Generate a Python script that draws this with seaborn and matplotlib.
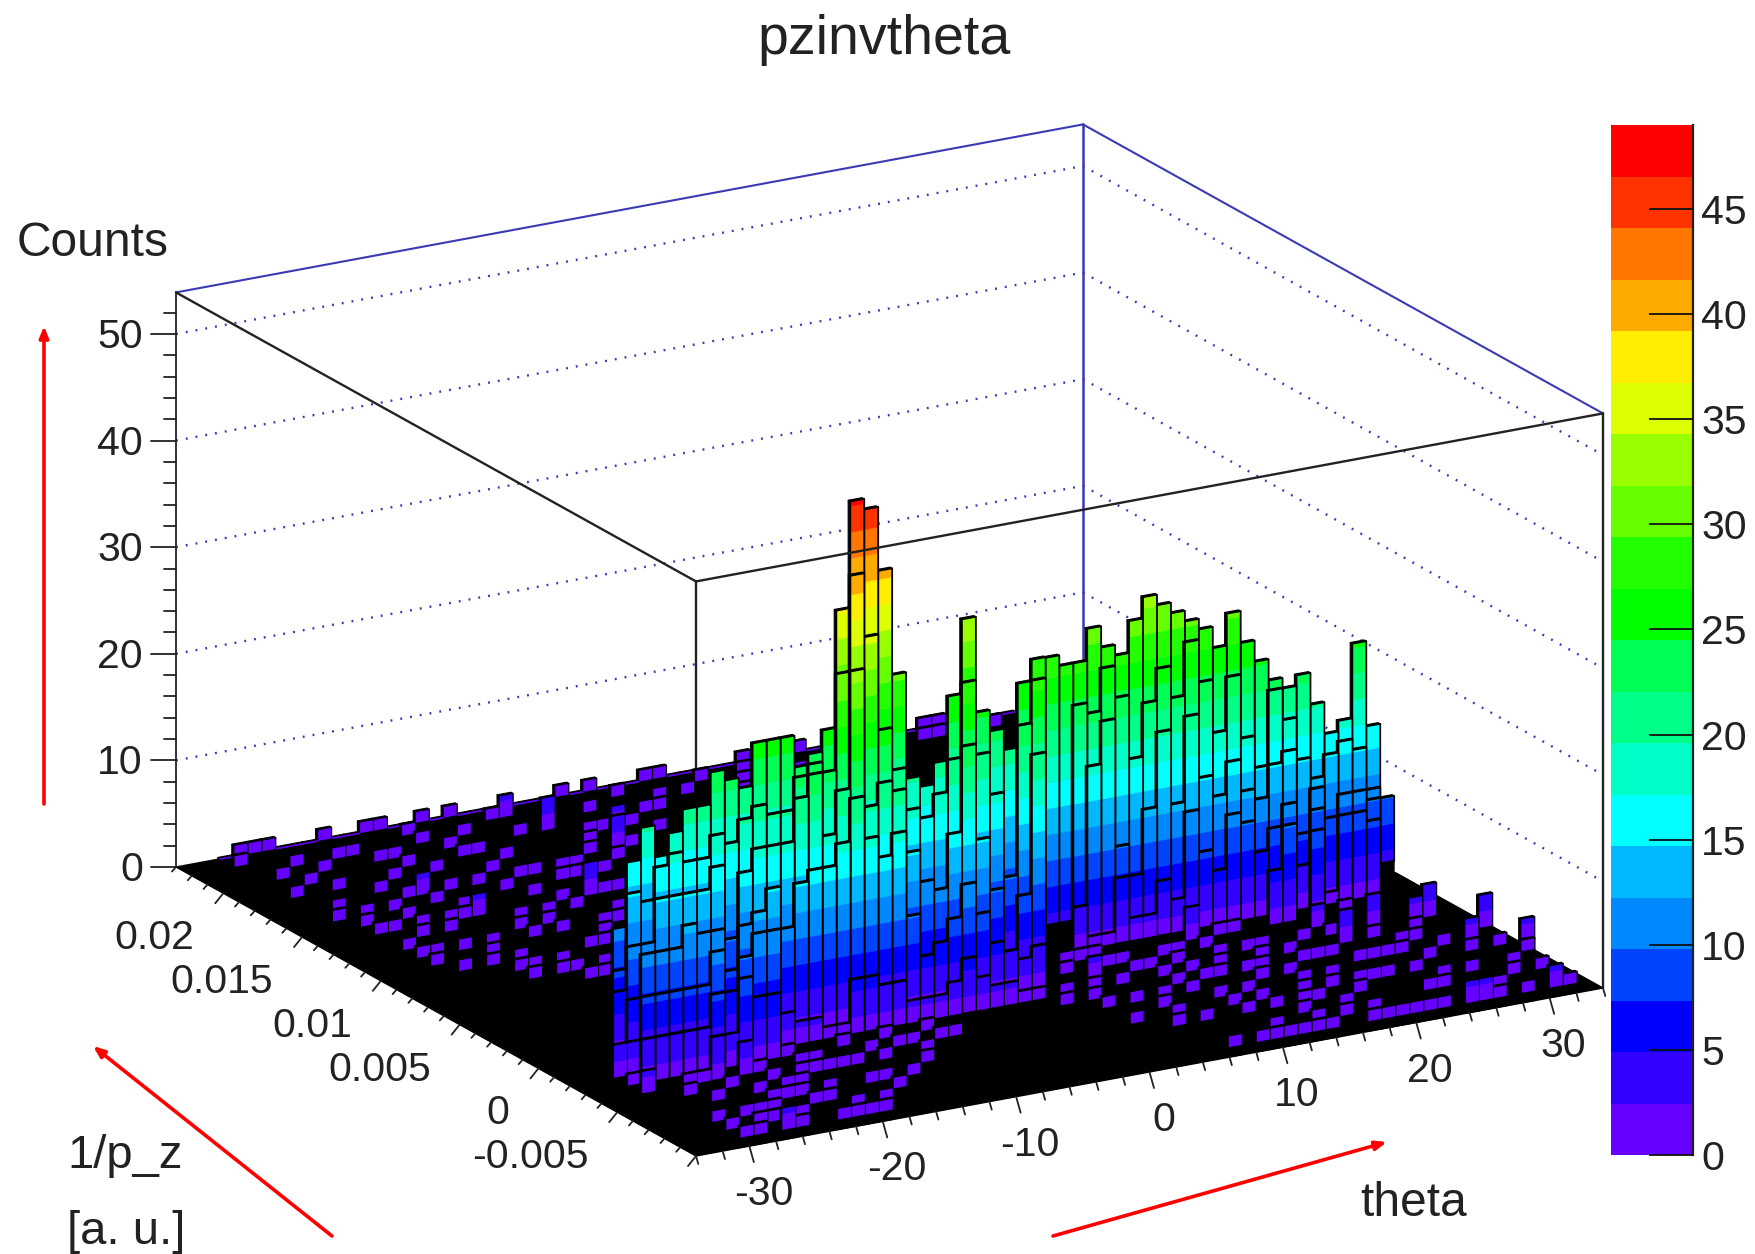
#!/usr/bin/env python3
import numpy as np
import seaborn as sns
import matplotlib
matplotlib.use("Agg")
import matplotlib.pyplot as plt
from matplotlib.collections import PolyCollection
from matplotlib.colors import ListedColormap

sns.set_theme(style="white")
plt.rcParams["font.family"] = ["Liberation Sans", "DejaVu Sans"]

# histogram binning
N_THETA = 65
N_PZ = 37
THETA_MIN, THETA_MAX = -34.0, 34.0
PZ_MIN, PZ_MAX = -0.01, 0.023
Z_TOP = 53.9
Z_PALETTE_TOP = 49.0

band_colors = ["#6600ff", "#3300ff", "#0000ff", "#0044ff", "#0088ff", "#00b8ff", "#00ffff",
               "#00ffc8", "#00ff88", "#00ff55", "#00ff00", "#22ff00", "#66ff00", "#99ff00",
               "#ddff00", "#ffee00", "#ffaa00", "#ff7700", "#ff3300", "#ff0000"]

# ridge counts, one list per 1/p_z row, running along the picture columns from -6 on
ridge_row15 = [0] * 31 + [26, 25, 25, 28, 26, 25, 28, 30, 29, 28, 27, 26, 24, 27, 24, 22, 20, 19, 20, 17, 14, 15, 22, 14, 7]
ridge_row14 = [0] * 31 + [0, 0, 22, 21, 25, 22, 16, 21, 24, 21, 26, 22, 17, 22, 16, 13, 20, 17, 13, 11, 13, 14, 13, 9, 0]
ridge_row13 = [0] * 31 + [0, 0, 0, 17, 21, 9, 6, 12, 19, 12, 20, 14, 12, 15, 12, 11, 14, 15, 7, 11, 8, 10, 10, 9, 0]
ridge_row12 = [11, 17, 20, 17, 19, 21, 21, 24, 23, 22, 26, 26, 26, 23, 24, 26, 37, 47, 46, 40, 30, 20, 19, 21, 27, 34, 25, 23, 21, 27, 29,
               0, 0, 5, 2, 2, 7, 3, 3, 6, 4, 12, 8, 6, 11, 10, 7, 9, 11, 5, 10, 2, 9, 9, 8, 0]
ridge_row11 = [8, 15, 14, 17, 18, 17, 17, 19, 18, 20, 21, 20, 20, 23, 24, 23, 32, 41, 35, 26, 22, 18, 17, 19, 22, 29, 22, 18, 10, 24, 28,
               0, 0, 0, 0, 0, 0, 0, 0, 0, 0, 4, 0, 0, 0, 0, 0, 6, 10, 0, 9, 0, 2, 0, 0, 0]
ridge_row10 = [7, 11, 11, 15, 15, 15, 15, 17, 10, 16, 18, 18, 18, 22, 24, 18, 22, 33, 20, 22, 21, 15, 12, 11, 16, 24, 15, 10, 0, 9, 22]
ridge_row9 = [0, 7, 11, 11, 11, 13, 12, 12, 8, 12, 13, 15, 11, 15, 16, 16, 18, 22, 18, 16, 18, 10, 6, 7, 9, 12, 9, 6, 5, 4, 5]
ridge_row8 = [4, 4, 8, 8, 8, 8, 8, 11, 7, 10, 12, 12, 4, 3, 3, 2, 2, 6, 6, 5, 5, 3, 3, 3, 4, 6, 4, 3, 3, 2, 2]
ridge_row7 = [0, 2, 5, 5, 5, 5, 5, 8, 4, 9, 7, 7]
ridge_row6 = [0, 0, 3, 0, 0, 2, 2, 5, 0, 4]
ridge_row5 = [0, 0, 0, 0, 0, 2]
ridge_rows = {15: ridge_row15, 14: ridge_row14, 13: ridge_row13, 12: ridge_row12, 11: ridge_row11,
              10: ridge_row10, 9: ridge_row9, 8: ridge_row8, 7: ridge_row7, 6: ridge_row6, 5: ridge_row5}

# low-count bins on the far side of the ridge: (theta bin, 1/p_z bin), count 2
far_bins = [(3, 36), (2, 35), (4, 36), (5, 36), (3, 33), (5, 34), (2, 31), (4, 32), (9, 36), (6, 33), (8, 34), (5, 31),
            (9, 34), (3, 29), (2, 28), (12, 36), (13, 36), (10, 33), (7, 30), (4, 28), (3, 27), (3, 26), (11, 33), (9, 31),
            (14, 35), (8, 29), (6, 27), (6, 28), (14, 34), (11, 32), (4, 26), (3, 24), (3, 23), (16, 36), (12, 31), (15, 33),
            (11, 29), (18, 36), (4, 23), (3, 22), (6, 23), (4, 21), (17, 34), (15, 32), (16, 32), (20, 35), (11, 27), (9, 26),
            (7, 22), (6, 21), (13, 29), (14, 28), (15, 30), (8, 21), (7, 20), (17, 31), (20, 33), (16, 29), (15, 27), (17, 29),
            (8, 20), (7, 19), (11, 23), (23, 34), (10, 20), (9, 19), (10, 19), (10, 18), (12, 19), (11, 18), (18, 28), (19, 29),
            (19, 28), (16, 26), (16, 25), (13, 23), (20, 29), (23, 31), (24, 32), (16, 23), (21, 28), (27, 32), (29, 33), (30, 33),
            (32, 36), (33, 36), (29, 35), (26, 34), (28, 36), (26, 36), (33, 34), (35, 35), (39, 36), (37, 34), (43, 36), (52, 36),
            (53, 36), (51, 35), (52, 35), (56, 35), (25, 32), (19, 26), (20, 26), (17, 23), (14, 21), (25, 30), (9, 28), (10, 27),
            (6, 26), (8, 26), (5, 25), (7, 25), (8, 23), (12, 25), (11, 24), (14, 25), (13, 24),
            (22, 30), (23, 29), (24, 28), (22, 27), (24, 26), (21, 25), (18, 24), (20, 23), (19, 21), (15, 22), (17, 20), (13, 21),
            (27, 29), (28, 31), (30, 30), (31, 34), (34, 32), (36, 33), (38, 35), (41, 34), (45, 35), (47, 36), (28, 27), (26, 28)]

# low-count bins on the near side of the ridge, count 2
near_bins = [(3, 0), (4, 0), (7, 0), (3, 2), (3, 1), (5, 2), (6, 2), (8, 3), (10, 4), (10, 3), (10, 2), (11, 2), (10, 0), (11, 0),
             (12, 0), (13, 0), (14, 1), (16, 2), (18, 3), (20, 4), (21, 5), (21, 6), (16, 3), (15, 3), (16, 5), (18, 5), (20, 6),
             (18, 6), (17, 7), (20, 7), (23, 7), (23, 6), (24, 6), (14, 6), (13, 6), (13, 7), (10, 6), (9, 6), (7, 5), (5, 4),
             (8, 4), (10, 5), (11, 4), (13, 5), (14, 5), (12, 3), (8, 1), (6, 1), (9, 3), (7, 2), (5, 1), (12, 5), (15, 5), (12, 1),
             (37, 11), (38, 11), (37, 9), (39, 11), (39, 10), (36, 10), (34, 8), (33, 7), (35, 7), (35, 6), (38, 8), (40, 10),
             (41, 9), (37, 6), (35, 4), (41, 8), (44, 10), (43, 9), (46, 10), (43, 8), (41, 6), (37, 3), (38, 4), (39, 6), (38, 5),
             (41, 7), (43, 7), (48, 11), (46, 9), (42, 5), (44, 7), (49, 11), (48, 9), (46, 7), (42, 3), (44, 5), (48, 8), (47, 7),
             (44, 4), (46, 6), (53, 11), (50, 8), (48, 6), (42, 1), (44, 3), (47, 4), (45, 2), (52, 9), (50, 7), (48, 5), (45, 1),
             (47, 3), (54, 9), (52, 7), (50, 5), (53, 6), (51, 4), (47, 1), (48, 2), (56, 8), (54, 6), (52, 4), (49, 1), (48, 0),
             (57, 7), (56, 6), (49, 0), (50, 0), (59, 8), (38, 0), (40, 0), (41, 0), (42, 0), (43, 0), (44, 0), (45, 0), (42, 4),
             (39, 3), (58, 7), (57, 5), (59, 6), (58, 3), (63, 4), (62, 2), (54, 2), (55, 2), (57, 1), (58, 1), (59, 0), (62, 0),
             (57, 0), (53, 0), (52, 0), (51, 0), (61, 3), (62, 5), (36, 8), (40, 9), (43, 10), (45, 8), (49, 9), (51, 7), (55, 6),
             (53, 4), (50, 3), (49, 4), (46, 3), (55, 4), (60, 5), (60, 2), (56, 3)]

# slightly higher isolated bins: (theta bin, 1/p_z bin, count)
tall_bins = [(9, 29, 3), (10, 26, 3), (21, 35, 3), (22, 33, 4), (18, 26, 4), (26, 32, 3), (24, 30, 4), (25, 31, 3), (6, 0, 3),
             (37, 9, 3), (54, 10, 3), (54, 8, 4), (57, 9, 4), (61, 9, 4), (60, 9, 3), (61, 6, 3), (63, 7, 4), (64, 5, 3),
             (61, 0, 3), (55, 0, 3), (56, 0, 3)]

# single counts along the far edge, they only lift the black floor
far_edge_counts = [0, 0, 1, 1, 1, 1, 1, 1, 1, 1, 1, 1, 1, 1, 1, 1, 1, 1, 1, 1, 1, 1, 1, 1, 1, 1, 1, 1, 1, 1, 1, 1, 1,
                   1, 1, 1, 1, 1, 1, 1, 1, 1, 1, 1, 1, 1, 1, 1, 1, 1, 1, 1, 1, 1, 1, 1, 1, 1, 1, 0, 0, 0, 0, 0, 0]

z_ticks = [0, 10, 20, 30, 40, 50]
theta_ticks = [-30, -20, -10, 0, 10, 20, 30]
pz_ticks = [0.02, 0.015, 0.01, 0.005, 0, -0.005]
pz_labels = ["0.02", "0.015", "0.01", "0.005", "0", "-0.005"]
palette_ticks = [0, 5, 10, 15, 20, 25, 30, 35, 40, 45]

counts = np.zeros((N_PZ, N_THETA))
for row, values in ridge_rows.items():
    for col, v in zip(range(-6, 50), values):
        counts[row, col + row] = v
for i, j in far_bins + near_bins:
    counts[j, i] = max(counts[j, i], 2)
for i, j, v in tall_bins:
    counts[j, i] = max(counts[j, i], v)
for i, v in enumerate(far_edge_counts):
    counts[N_PZ - 1, i] = max(counts[N_PZ - 1, i], v)

# the bars sit a little off the axis start
theta_edges = np.linspace(THETA_MIN, THETA_MAX, N_THETA + 1) + 0.15
pz_edges = np.linspace(PZ_MIN, PZ_MAX, N_PZ + 1)

# the box is an oblique view, so three pixel vectors are enough
NEAR = np.array([696.0, 1156.0])
THETA_VEC = np.array([907.0, -168.0])
PZ_VEC = np.array([-520.0, -289.0])
Z_SCALE = 10.66
TEXT_DY = 3


def project(theta, pz, z=0.0):
    u = (theta - THETA_MIN) / (THETA_MAX - THETA_MIN)
    v = (pz - PZ_MIN) / (PZ_MAX - PZ_MIN)
    p = NEAR + u * THETA_VEC + v * PZ_VEC
    return (p[0], p[1] - z * Z_SCALE)


def draw_line(ax, a, b, **kw):
    ax.plot([a[0], b[0]], [a[1], b[1]], solid_capstyle="round", **kw)


fig = plt.figure(figsize=(17.55, 12.54), dpi=100)
ax = fig.add_axes([0, 0, 1, 1])
ax.set_xlim(0, 1755)
ax.set_ylim(1254, 0)
ax.axis("off")

# back walls
navy = "#3a3ab4"
dots = (0, (0.8, 3.4))
for z in z_ticks[1:]:
    draw_line(ax, project(THETA_MIN, PZ_MAX, z), project(THETA_MAX, PZ_MAX, z), color=navy, lw=1.7, ls=dots, zorder=1)
    draw_line(ax, project(THETA_MAX, PZ_MAX, z), project(THETA_MAX, PZ_MIN, z), color=navy, lw=1.7, ls=dots, zorder=1)
draw_line(ax, project(THETA_MAX, PZ_MAX), project(THETA_MAX, PZ_MAX, Z_TOP), color=navy, lw=1.8, zorder=1)
draw_line(ax, project(THETA_MIN, PZ_MAX, Z_TOP), project(THETA_MAX, PZ_MAX, Z_TOP), color=navy, lw=1.5, zorder=1)
draw_line(ax, project(THETA_MAX, PZ_MAX, Z_TOP), project(THETA_MAX, PZ_MIN, Z_TOP), color=navy, lw=1.5, zorder=1)
draw_line(ax, project(THETA_MIN, PZ_MIN), project(THETA_MIN, PZ_MIN, Z_TOP), color="#222222", lw=1.7, zorder=1)
draw_line(ax, project(THETA_MAX, PZ_MIN), project(THETA_MAX, PZ_MIN, Z_TOP), color="#222222", lw=1.7, zorder=1)

# floor
floor = [project(THETA_MIN, PZ_MIN), project(THETA_MAX, PZ_MIN), project(THETA_MAX, PZ_MAX), project(THETA_MIN, PZ_MAX)]
ax.fill([p[0] for p in floor], [p[1] for p in floor], color="black", lw=1, zorder=2)

# bars, far ones first so the near ones cover them
band = Z_PALETTE_TOP / len(band_colors)
palette = sns.color_palette(band_colors, n_colors=len(band_colors))
DEPTH = 0.15
polys, faces, edges, widths = [], [], [], []


def add_poly(pts, face, edge="none", lw=0.0):
    polys.append(pts)
    faces.append(face)
    edges.append(edge)
    widths.append(lw)


for j in range(N_PZ - 1, -1, -1):
    for i in range(N_THETA - 1, -1, -1):
        z = counts[j, i]
        if z <= 0:
            continue
        t0, t1 = theta_edges[i], theta_edges[i + 1]
        p0, p1 = pz_edges[j], pz_edges[j + 1]
        p_back = p0 + DEPTH * (p1 - p0)
        add_poly([project(t0, p_back, z), project(t1, p_back, z), project(t1, p0, z), project(t0, p0, z)], "black", "black", 0.8)
        add_poly([project(t0, p0, 0), project(t0, p_back, 0), project(t0, p_back, z), project(t0, p0, z)], "black", "black", 0.8)
        # the first count stays black in the picture, it merges with the floor
        lift = (j - 12) * 0.97 if 13 <= j <= 15 else 0.0
        add_poly([project(t0, p0, 0), project(t1, p0, 0), project(t1, p0, min(z, 1)), project(t0, p0, min(z, 1))], "black", "black", 0.6)
        for k, color in enumerate(palette):
            lo = max(k * band - lift, 1.0)
            hi = min((k + 1) * band - lift, z)
            if k == 0:
                lo = 0.9
            if hi > lo:
                add_poly([project(t0, p0, lo), project(t1, p0, lo), project(t1, p0, hi), project(t0, p0, hi)], color, color, 0.4)
        if z > 1:
            outline = [project(t0, p0, 0.9), project(t1, p0, 0.9), project(t1, p0, z), project(t0, p0, z)]
            add_poly(outline, "none", "black", 1.3 if z > 4 else 0.85)

ax.add_collection(PolyCollection(polys, facecolors=faces, edgecolors=edges, linewidths=widths, zorder=3))

# the front top edges run over the bars
draw_line(ax, project(THETA_MIN, PZ_MAX, Z_TOP), project(THETA_MIN, PZ_MIN, Z_TOP), color="#222222", lw=1.7, zorder=4)
draw_line(ax, project(THETA_MIN, PZ_MIN, Z_TOP), project(THETA_MAX, PZ_MIN, Z_TOP), color="#222222", lw=1.7, zorder=4)

# z axis
tick_style = dict(color="#222222", lw=1.3, zorder=5)
draw_line(ax, project(THETA_MIN, PZ_MAX), project(THETA_MIN, PZ_MAX, Z_TOP), **tick_style)
for z in np.arange(0, 54, 2):
    x, y = project(THETA_MIN, PZ_MAX, z)
    draw_line(ax, (x, y), (x - (25 if z % 10 == 0 else 12), y), **tick_style)
for z in z_ticks:
    x, y = project(THETA_MIN, PZ_MAX, z)
    ax.text(x - 33, y + TEXT_DY, str(z), ha="right", va="center", fontsize=29.5, color="#222222")

# theta axis
for t in np.arange(-34, 35, 2):
    x, y = project(t, PZ_MIN)
    major = t % 10 == 0
    draw_line(ax, (x, y), (x + (4.5 if major else 2.3), y + (16 if major else 8)), **tick_style)
for t in theta_ticks:
    x, y = project(t, PZ_MIN)
    ax.text(x + 14, y + 45 + TEXT_DY, str(t), ha="center", va="center", fontsize=29.5, color="#222222")

# 1/p_z axis
for p in np.arange(-0.01, 0.0231, 0.001):
    x, y = project(THETA_MIN, p)
    major = abs(p / 0.005 - round(p / 0.005)) < 1e-6
    draw_line(ax, (x, y), (x - (8 if major else 4), y + (10 if major else 4.5)), **tick_style)
for p, lab in zip(pz_ticks, pz_labels):
    x, y = project(THETA_MIN, p)
    ax.text(x - 29, y + 42 + TEXT_DY, lab, ha="right", va="center", fontsize=29.5, color="#222222")

ax.text(884, 37 + TEXT_DY, "pzinvtheta", ha="center", va="center", fontsize=40, color="#222222")
ax.text(17, 240 + TEXT_DY, "Counts", ha="left", va="center", fontsize=34.5, color="#222222")
ax.text(67, 1153 + TEXT_DY, "1/p_z", ha="left", va="center", fontsize=34, color="#222222")
ax.text(67, 1229 + TEXT_DY, "[a. u.]", ha="left", va="center", fontsize=34, color="#222222")
ax.text(1414, 1200 + TEXT_DY, "theta", ha="center", va="center", fontsize=34.5, color="#222222")

# hand drawn arrows of the annotated figure
arrow = dict(arrowstyle="-|>,head_length=0.55,head_width=0.22", color="#ff0000", lw=2.6, shrinkA=0, shrinkB=0)
ax.annotate("", xy=(44, 326), xytext=(44, 804), arrowprops=arrow)
ax.annotate("", xy=(93, 1046), xytext=(332, 1236), arrowprops=arrow)
ax.annotate("", xy=(1387, 1142), xytext=(1053, 1236), arrowprops=arrow)

# palette axis
cax = fig.add_axes([1611 / 1755, 1 - 1155 / 1254, 82 / 1755, 1030 / 1254])
levels = np.arange(len(band_colors)).reshape(-1, 1)
sns.heatmap(levels, ax=cax, cmap=ListedColormap(palette), cbar=False, xticklabels=False, yticklabels=False)
cax.set_ylim(0, len(band_colors))
cax.set_axisbelow(False)
cax.set_yticks([t / band for t in palette_ticks])
cax.set_yticklabels([str(t) for t in palette_ticks], fontsize=29.5, color="#222222")
cax.yaxis.tick_right()
cax.tick_params(axis="y", direction="in", length=32, width=1.3, color="#111111", pad=6, right=True, left=False)
for side in ["top", "bottom", "left"]:
    cax.spines[side].set_visible(False)
cax.spines["right"].set_visible(True)
cax.spines["right"].set_color("#222222")
cax.spines["right"].set_linewidth(1.6)

fig.savefig("out.png", dpi=100)
